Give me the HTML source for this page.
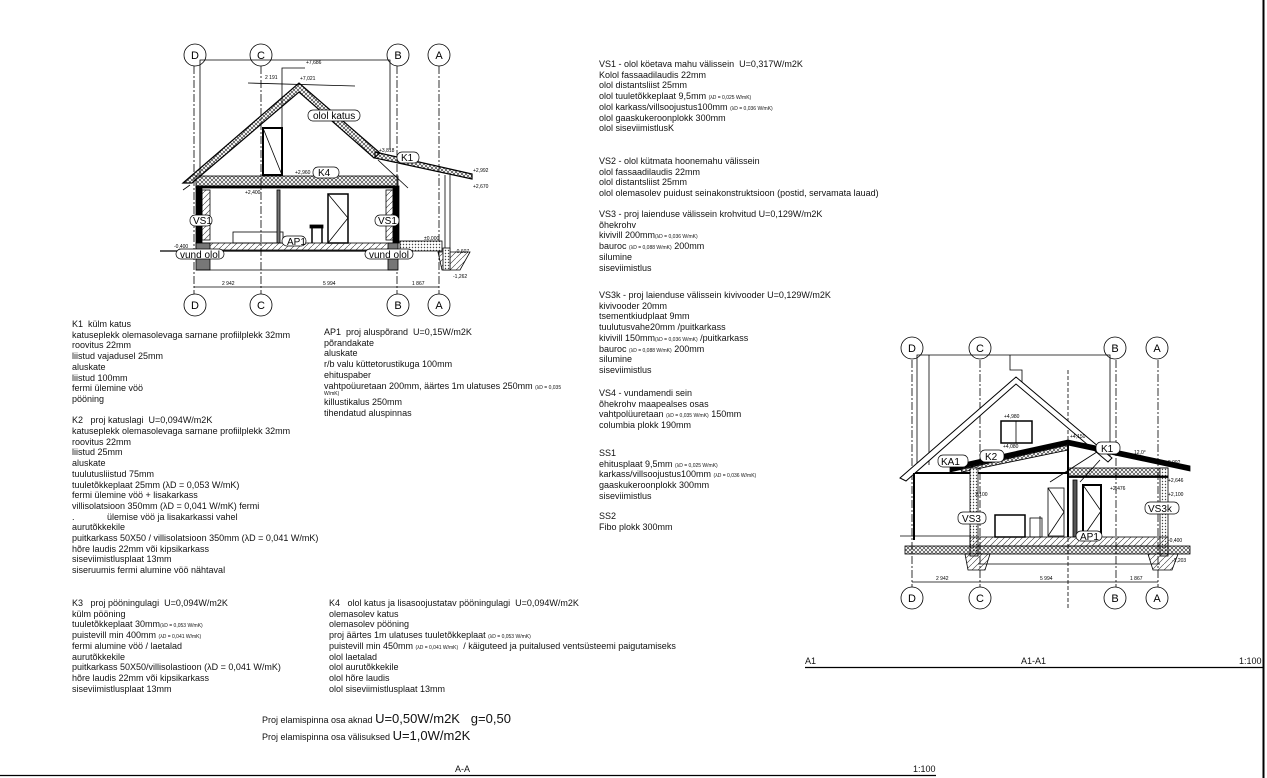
<!DOCTYPE html>
<html><head><meta charset="utf-8">
<style>
html,body{margin:0;padding:0;background:#fff;}
body{width:1267px;height:778px;position:relative;overflow:hidden;font-family:"Liberation Sans",Arial,sans-serif;color:#111;}
.t{position:absolute;font-size:9px;line-height:10.7px;white-space:nowrap;}
.s{font-size:5px;line-height:0;}
.big{font-size:13px;line-height:0;}
svg{position:absolute;left:0;top:0;}
</style></head><body>
<svg width="1267" height="778" viewBox="0 0 1267 778">
<defs>
<pattern id="x" width="4" height="4" patternUnits="userSpaceOnUse"><path d="M0 0L4 4M4 0L0 4" stroke="#222" stroke-width="0.6"/></pattern>
<pattern id="h" width="6" height="6" patternUnits="userSpaceOnUse"><path d="M0 6L6 0" stroke="#333" stroke-width="0.6"/></pattern>
<pattern id="d" width="3" height="3" patternUnits="userSpaceOnUse"><rect width="3" height="3" fill="#fff"/><circle cx="1.5" cy="1.5" r="0.7" fill="#444"/></pattern>
</defs>
<line x1="1263.5" y1="0" x2="1263.5" y2="778" stroke="#000" stroke-width="2"/>
<line x1="805" y1="667.5" x2="1263" y2="667.5" stroke="#000" stroke-width="1.2"/>
<line x1="0" y1="775.5" x2="936" y2="775.5" stroke="#000" stroke-width="1.2"/>

<!-- LEFT DRAWING -->
<g fill="none" stroke="#000" stroke-width="0.8" font-family="Liberation Sans" font-size="11">
<g stroke-dasharray="8 2 2 2">
<line x1="194" y1="66" x2="194" y2="294"/><line x1="261" y1="66" x2="261" y2="294"/>
<line x1="397" y1="66" x2="397" y2="294"/><line x1="439" y1="66" x2="439" y2="294"/>
</g>
<circle cx="195" cy="55" r="11" fill="#fff"/><circle cx="261" cy="55" r="11" fill="#fff"/>
<circle cx="398" cy="55" r="11" fill="#fff"/><circle cx="439" cy="55" r="11" fill="#fff"/>
<circle cx="195" cy="305" r="11" fill="#fff"/><circle cx="261" cy="305" r="11" fill="#fff"/>
<circle cx="398" cy="305" r="11" fill="#fff"/><circle cx="439" cy="305" r="11" fill="#fff"/>
<polyline points="200,178 200,60 390,60 390,150"/>
<polyline points="305,68 282,68 282,176"/>
<line x1="248" y1="83" x2="355" y2="86"/>
<polygon points="183,183 299,83 380,153 374,158 299,92 192,183" fill="url(#x)" stroke-width="1.2"/>
<line x1="190" y1="185" x2="183" y2="190"/>
<polygon points="375,152 472,174 472,179 375,158" fill="url(#x)" stroke-width="1.2"/>
<line x1="378" y1="160" x2="408" y2="188"/>
<line x1="445" y1="175" x2="445" y2="270"/><line x1="450" y1="175" x2="450" y2="270"/>
<rect x="196" y="176" width="202" height="10" fill="url(#x)"/>
<rect x="196" y="186" width="202" height="2" fill="#000"/>
<rect x="196" y="186" width="6" height="57" fill="#000"/>
<rect x="393" y="186" width="6" height="57" fill="#000"/>
<rect x="202" y="190" width="8" height="50" fill="url(#h)"/>
<rect x="386" y="190" width="7" height="50" fill="url(#h)"/>
<rect x="263" y="128" width="19" height="47" stroke-width="2"/>
<line x1="263" y1="128" x2="282" y2="175"/>
<rect x="328" y="194" width="20" height="49" stroke-width="1.5"/>
<polyline points="328,194 348,218 328,243"/>
<rect x="310" y="225" width="13" height="3" fill="#000"/>
<line x1="312" y1="228" x2="312" y2="243" stroke-width="1.5"/><line x1="322" y1="228" x2="322" y2="243" stroke-width="1.5"/>
<rect x="233" y="232" width="50" height="11"/>
<rect x="277" y="190" width="3" height="53" fill="#777"/>
<rect x="196" y="243" width="202" height="7" fill="url(#h)"/>
<line x1="160" y1="251" x2="400" y2="251" stroke-width="1.2"/>
<rect x="196" y="243" width="14" height="27" fill="#777"/>
<rect x="388" y="243" width="10" height="27" fill="#777"/>
<line x1="196" y1="270" x2="398" y2="270"/>
<rect x="400" y="241" width="42" height="10" fill="url(#d)"/>
<polygon points="438,252 470,252 460,270 442,270" fill="url(#h)"/>
<rect x="443" y="248" width="7" height="22" fill="url(#d)"/>
<line x1="194" y1="287" x2="439" y2="287"/>
<g font-size="5" fill="#000" stroke="none">
<text x="222" y="285">2 942</text><text x="323" y="285">5 994</text><text x="412" y="285">1 867</text>
<text x="306" y="64">+7,686</text><text x="265" y="79">2 191</text><text x="300" y="80">+7,021</text>
<text x="379" y="152">+3,818</text><text x="295" y="174">+2,960</text><text x="245" y="194">+2,400</text>
<text x="424" y="240">±0,000</text><text x="455" y="253">-0,607</text><text x="453" y="278">-1,262</text>
<text x="174" y="248">-0,400</text><text x="473" y="172">+2,992</text><text x="473" y="188">+2,670</text>
</g>
<g fill="#fff" stroke="#000" stroke-width="0.7">
<rect x="308" y="110" width="52" height="11" rx="5"/><rect x="313" y="167" width="26" height="11" rx="5"/>
<rect x="397" y="152" width="22" height="11" rx="5"/><rect x="190" y="215" width="22" height="11" rx="5"/>
<rect x="375" y="215" width="24" height="11" rx="5"/><rect x="282" y="236" width="24" height="10" rx="5"/>
<rect x="176" y="249" width="48" height="10" rx="5"/><rect x="365" y="249" width="48" height="10" rx="5"/>
</g>
<g font-size="10" fill="#000" stroke="none">
<text x="313" y="119">olol katus</text><text x="318" y="176">K4</text><text x="401" y="161">K1</text>
<text x="193" y="224">VS1</text><text x="378" y="224">VS1</text><text x="287" y="245">AP1</text>
<text x="180" y="258">vund olol</text><text x="369" y="258">vund olol</text>
</g>
<g fill="#000" stroke="none" text-anchor="middle" font-size="11">
<text x="195" y="59">D</text><text x="261" y="59">C</text><text x="398" y="59">B</text><text x="439" y="59">A</text>
<text x="195" y="309">D</text><text x="261" y="309">C</text><text x="398" y="309">B</text><text x="439" y="309">A</text>
</g>
</g>

<!-- RIGHT DRAWING -->
<g fill="none" stroke="#000" stroke-width="0.8" font-family="Liberation Sans" font-size="11">
<g stroke-dasharray="8 2 2 2">
<line x1="912" y1="360" x2="912" y2="588"/><line x1="980" y1="360" x2="980" y2="588"/>
<line x1="1116" y1="360" x2="1116" y2="588"/><line x1="1158" y1="360" x2="1158" y2="588"/>
</g>
<line x1="1068" y1="370" x2="1068" y2="610" stroke-dasharray="4 2"/>
<circle cx="912" cy="348" r="11" fill="#fff"/><circle cx="980" cy="348" r="11" fill="#fff"/>
<circle cx="1115" cy="348" r="11" fill="#fff"/><circle cx="1157" cy="348" r="11" fill="#fff"/>
<circle cx="912" cy="598" r="11" fill="#fff"/><circle cx="980" cy="598" r="11" fill="#fff"/>
<circle cx="1115" cy="598" r="11" fill="#fff"/><circle cx="1157" cy="598" r="11" fill="#fff"/>
<polyline points="917,470 917,355 1110,355 1110,460"/>
<line x1="929" y1="355" x2="929" y2="465"/>
<polyline points="1010,355 1010,370 1022,370 1022,385"/>
<polygon points="900,478 1016,377 1112,458 1108,462 1016,384 906,481" fill="#fff" stroke-width="1"/>
<rect x="1001" y="421" width="31" height="22" stroke-width="1.5"/><line x1="1016" y1="421" x2="1016" y2="443"/>
<polygon points="950,466 1068,440 1068,445 950,472" fill="#000"/>
<polygon points="960,468 1068,444 1068,450 962,472" fill="url(#x)"/>
<polygon points="1068,440 1190,466 1190,471 1068,445" fill="#000"/>
<rect x="1068" y="468" width="100" height="8" fill="url(#x)"/>
<line x1="915" y1="473" x2="1068" y2="473" stroke-width="2"/>
<line x1="1068" y1="445" x2="1068" y2="537" stroke-width="2"/>
<rect x="970" y="468" width="8" height="88" fill="url(#d)"/>
<rect x="1160" y="468" width="8" height="88" fill="url(#d)"/>
<rect x="1068" y="476" width="100" height="1.5" fill="#000"/>
<line x1="914" y1="473" x2="914" y2="540" stroke-width="2"/>
<rect x="1048" y="488" width="16" height="48"/><polyline points="1048,488 1064,512 1048,536"/>
<rect x="1083" y="485" width="18" height="52" stroke-width="2"/><polyline points="1083,485 1101,511 1083,537"/>
<rect x="1073" y="480" width="4" height="57" fill="#555"/>
<rect x="995" y="515" width="30" height="22" stroke-width="1.5"/>
<line x1="1040" y1="516" x2="1040" y2="537"/><rect x="1030" y="518" width="12" height="19"/>
<line x1="1050" y1="482" x2="1100" y2="450"/><line x1="1080" y1="482" x2="1100" y2="460"/>
<line x1="900" y1="536" x2="970" y2="536"/>
<rect x="970" y="537" width="198" height="9" fill="url(#h)"/>
<rect x="905" y="546" width="285" height="8" fill="url(#x)"/>
<polygon points="965,554 990,554 985,570 968,570" fill="url(#h)"/>
<polygon points="1148,554 1178,554 1172,570 1153,570" fill="url(#h)"/>
<line x1="978" y1="564" x2="1160" y2="564"/>
<line x1="912" y1="582" x2="1158" y2="582"/>
<g font-size="5" fill="#000" stroke="none">
<text x="936" y="580">2 942</text><text x="1040" y="580">5 994</text><text x="1130" y="580">1 867</text>
<text x="1004" y="418">+4,980</text><text x="1003" y="448">+4,080</text><text x="1070" y="438">+4,150</text>
<text x="1134" y="454">12,0°</text><text x="1165" y="464">+2,992</text><text x="1168" y="482">+2,646</text>
<text x="1168" y="496">+2,100</text><text x="975" y="496">2,100</text><text x="1110" y="490">+2,476</text>
<text x="1168" y="542">-0,400</text><text x="1172" y="562">-1,203</text>
</g>
<g fill="#fff" stroke="#000" stroke-width="0.7">
<rect x="938" y="455" width="30" height="12" rx="5"/><rect x="980" y="450" width="24" height="12" rx="5"/>
<rect x="1096" y="442" width="24" height="12" rx="5"/><rect x="958" y="512" width="28" height="12" rx="5"/>
<rect x="1145" y="502" width="34" height="12" rx="5"/><rect x="1076" y="531" width="26" height="10" rx="5"/>
</g>
<g font-size="10" fill="#000" stroke="none">
<text x="941" y="465">KA1</text><text x="985" y="460">K2</text><text x="1101" y="452">K1</text>
<text x="962" y="522">VS3</text><text x="1148" y="512">VS3k</text><text x="1080" y="540">AP1</text>
</g>
<g fill="#000" stroke="none" text-anchor="middle" font-size="11">
<text x="912" y="352">D</text><text x="980" y="352">C</text><text x="1115" y="352">B</text><text x="1157" y="352">A</text>
<text x="912" y="602">D</text><text x="980" y="602">C</text><text x="1115" y="602">B</text><text x="1157" y="602">A</text>
</g>
</g>
</svg>

<div class="t" style="left:72px;top:319px">K1&nbsp; külm katus<br>katuseplekk olemasolevaga sarnane profiilplekk 32mm<br>roovitus 22mm<br>liistud vajadusel 25mm<br>aluskate<br>liistud 100mm<br>fermi ülemine vöö<br>pööning<br><br>K2&nbsp;&nbsp; proj katuslagi&nbsp; U=0,094W/m2K<br>katuseplekk olemasolevaga sarnane profiilplekk 32mm<br>roovitus 22mm<br>liistud 25mm<br>aluskate<br>tuulutusliistud 75mm<br>tuuletõkkeplaat 25mm (λD = 0,053 W/mK)<br>fermi ülemine vöö + lisakarkass<br>villisolatsioon 350mm (λD = 0,041 W/mK) fermi<br>.&nbsp;&nbsp;&nbsp;&nbsp;&nbsp;&nbsp;&nbsp;&nbsp;&nbsp;&nbsp;&nbsp;&nbsp; ülemise vöö ja lisakarkassi vahel<br>aurutõkkekile<br>puitkarkass 50X50 / villisolatsioon 350mm (λD = 0,041 W/mK)<br>hõre laudis 22mm või kipsikarkass<br>siseviimistlusplaat 13mm<br>siseruumis fermi alumine vöö nähtaval</div>

<div class="t" style="left:324px;top:327px">AP1&nbsp; proj aluspõrand&nbsp; U=0,15W/m2K<br>põrandakate<br>aluskate<br>r/b valu küttetorustikuga 100mm<br>ehituspaber<br>vahtpoüuretaan 200mm, äärtes 1m ulatuses 250mm <span class="s">(λD = 0,035</span><div style="font-size:5px;line-height:6px">W/mK)</div>killustikalus 250mm<br>tihendatud aluspinnas</div>

<div class="t" style="left:72px;top:598px">K3&nbsp;&nbsp; proj pööningulagi&nbsp; U=0,094W/m2K<br>külm pööning<br>tuuletõkkeplaat 30mm<span class="s">(λD = 0,053 W/mK)</span><br>puistevill min 400mm <span class="s">(λD = 0,041 W/mK)</span><br>fermi alumine vöö / laetalad<br>aurutõkkekile<br>puitkarkass 50X50/villisolastioon (λD = 0,041 W/mK)<br>hõre laudis 22mm või kipsikarkass<br>siseviimistlusplaat 13mm</div>

<div class="t" style="left:329px;top:598px">K4&nbsp;&nbsp; olol katus ja lisasoojustatav pööningulagi&nbsp; U=0,094W/m2K<br>olemasolev katus<br>olemasolev pööning<br>proj äärtes 1m ulatuses tuuletõkkeplaat <span class="s">(λD = 0,053 W/mK)</span><br>puistevill min 450mm <span class="s">(λD = 0,041 W/mK)</span>&nbsp; / käiguteed ja puitalused ventsüsteemi paigutamiseks<br>olol laetalad<br>olol aurutõkkekile<br>olol hõre laudis<br>olol siseviimistlusplaat 13mm</div>

<div class="t" style="left:262px;top:712px;line-height:17px">Proj elamispinna osa aknad <span class="big">U=0,50W/m2K&nbsp;&nbsp; g=0,50</span><br>Proj elamispinna osa välisuksed <span class="big">U=1,0W/m2K</span></div>

<div class="t" style="left:599px;top:59px">VS1 - olol köetava mahu välissein&nbsp; U=0,317W/m2K<br>Kolol fassaadilaudis 22mm<br>olol distantsliist 25mm<br>olol tuuletõkkeplaat 9,5mm <span class="s">(λD = 0,025 W/mK)</span><br>olol karkass/villsoojustus100mm <span class="s">(λD = 0,036 W/mK)</span><br>olol gaaskukeroonplokk 300mm<br>olol siseviimistlusK</div>

<div class="t" style="left:599px;top:156px">VS2 - olol kütmata hoonemahu välissein<br>olol fassaadilaudis 22mm<br>olol distantsliist 25mm<br>olol olemasolev puidust seinakonstruktsioon (postid, servamata lauad)</div>

<div class="t" style="left:599px;top:209px">VS3 - proj laienduse välissein krohvitud U=0,129W/m2K<br>õhekrohv<br>kivivill 200mm<span class="s">(λD = 0,036 W/mK)</span><br>bauroc <span class="s">(λD = 0,088 W/mK)</span> 200mm<br>silumine<br>siseviimistlus</div>

<div class="t" style="left:599px;top:290px">VS3k - proj laienduse välissein kivivooder U=0,129W/m2K<br>kivivooder 20mm<br>tsementkiudplaat 9mm<br>tuulutusvahe20mm /puitkarkass<br>kivivill 150mm<span class="s">(λD = 0,036 W/mK)</span> /puitkarkass<br>bauroc <span class="s">(λD = 0,088 W/mK)</span> 200mm<br>silumine<br>siseviimistlus</div>

<div class="t" style="left:599px;top:388px">VS4 - vundamendi sein<br>õhekrohv maapealses osas<br>vahtpolüuretaan <span class="s">(λD = 0,035 W/mK)</span> 150mm<br>columbia plokk 190mm</div>

<div class="t" style="left:599px;top:448px">SS1<br>ehitusplaat 9,5mm <span class="s">(λD = 0,025 W/mK)</span><br>karkass/villsoojustus100mm <span class="s">(λD = 0,036 W/mK)</span><br>gaaskukeroonplokk 300mm<br>siseviimistlus</div>

<div class="t" style="left:599px;top:511px">SS2<br>Fibo plokk 300mm</div>

<div class="t" style="left:805px;top:656px">A1</div>
<div class="t" style="left:1021px;top:656px">A1-A1</div>
<div class="t" style="left:1239px;top:656px">1:100</div>
<div class="t" style="left:455px;top:764px">A-A</div>
<div class="t" style="left:913px;top:764px">1:100</div>
</body></html>
